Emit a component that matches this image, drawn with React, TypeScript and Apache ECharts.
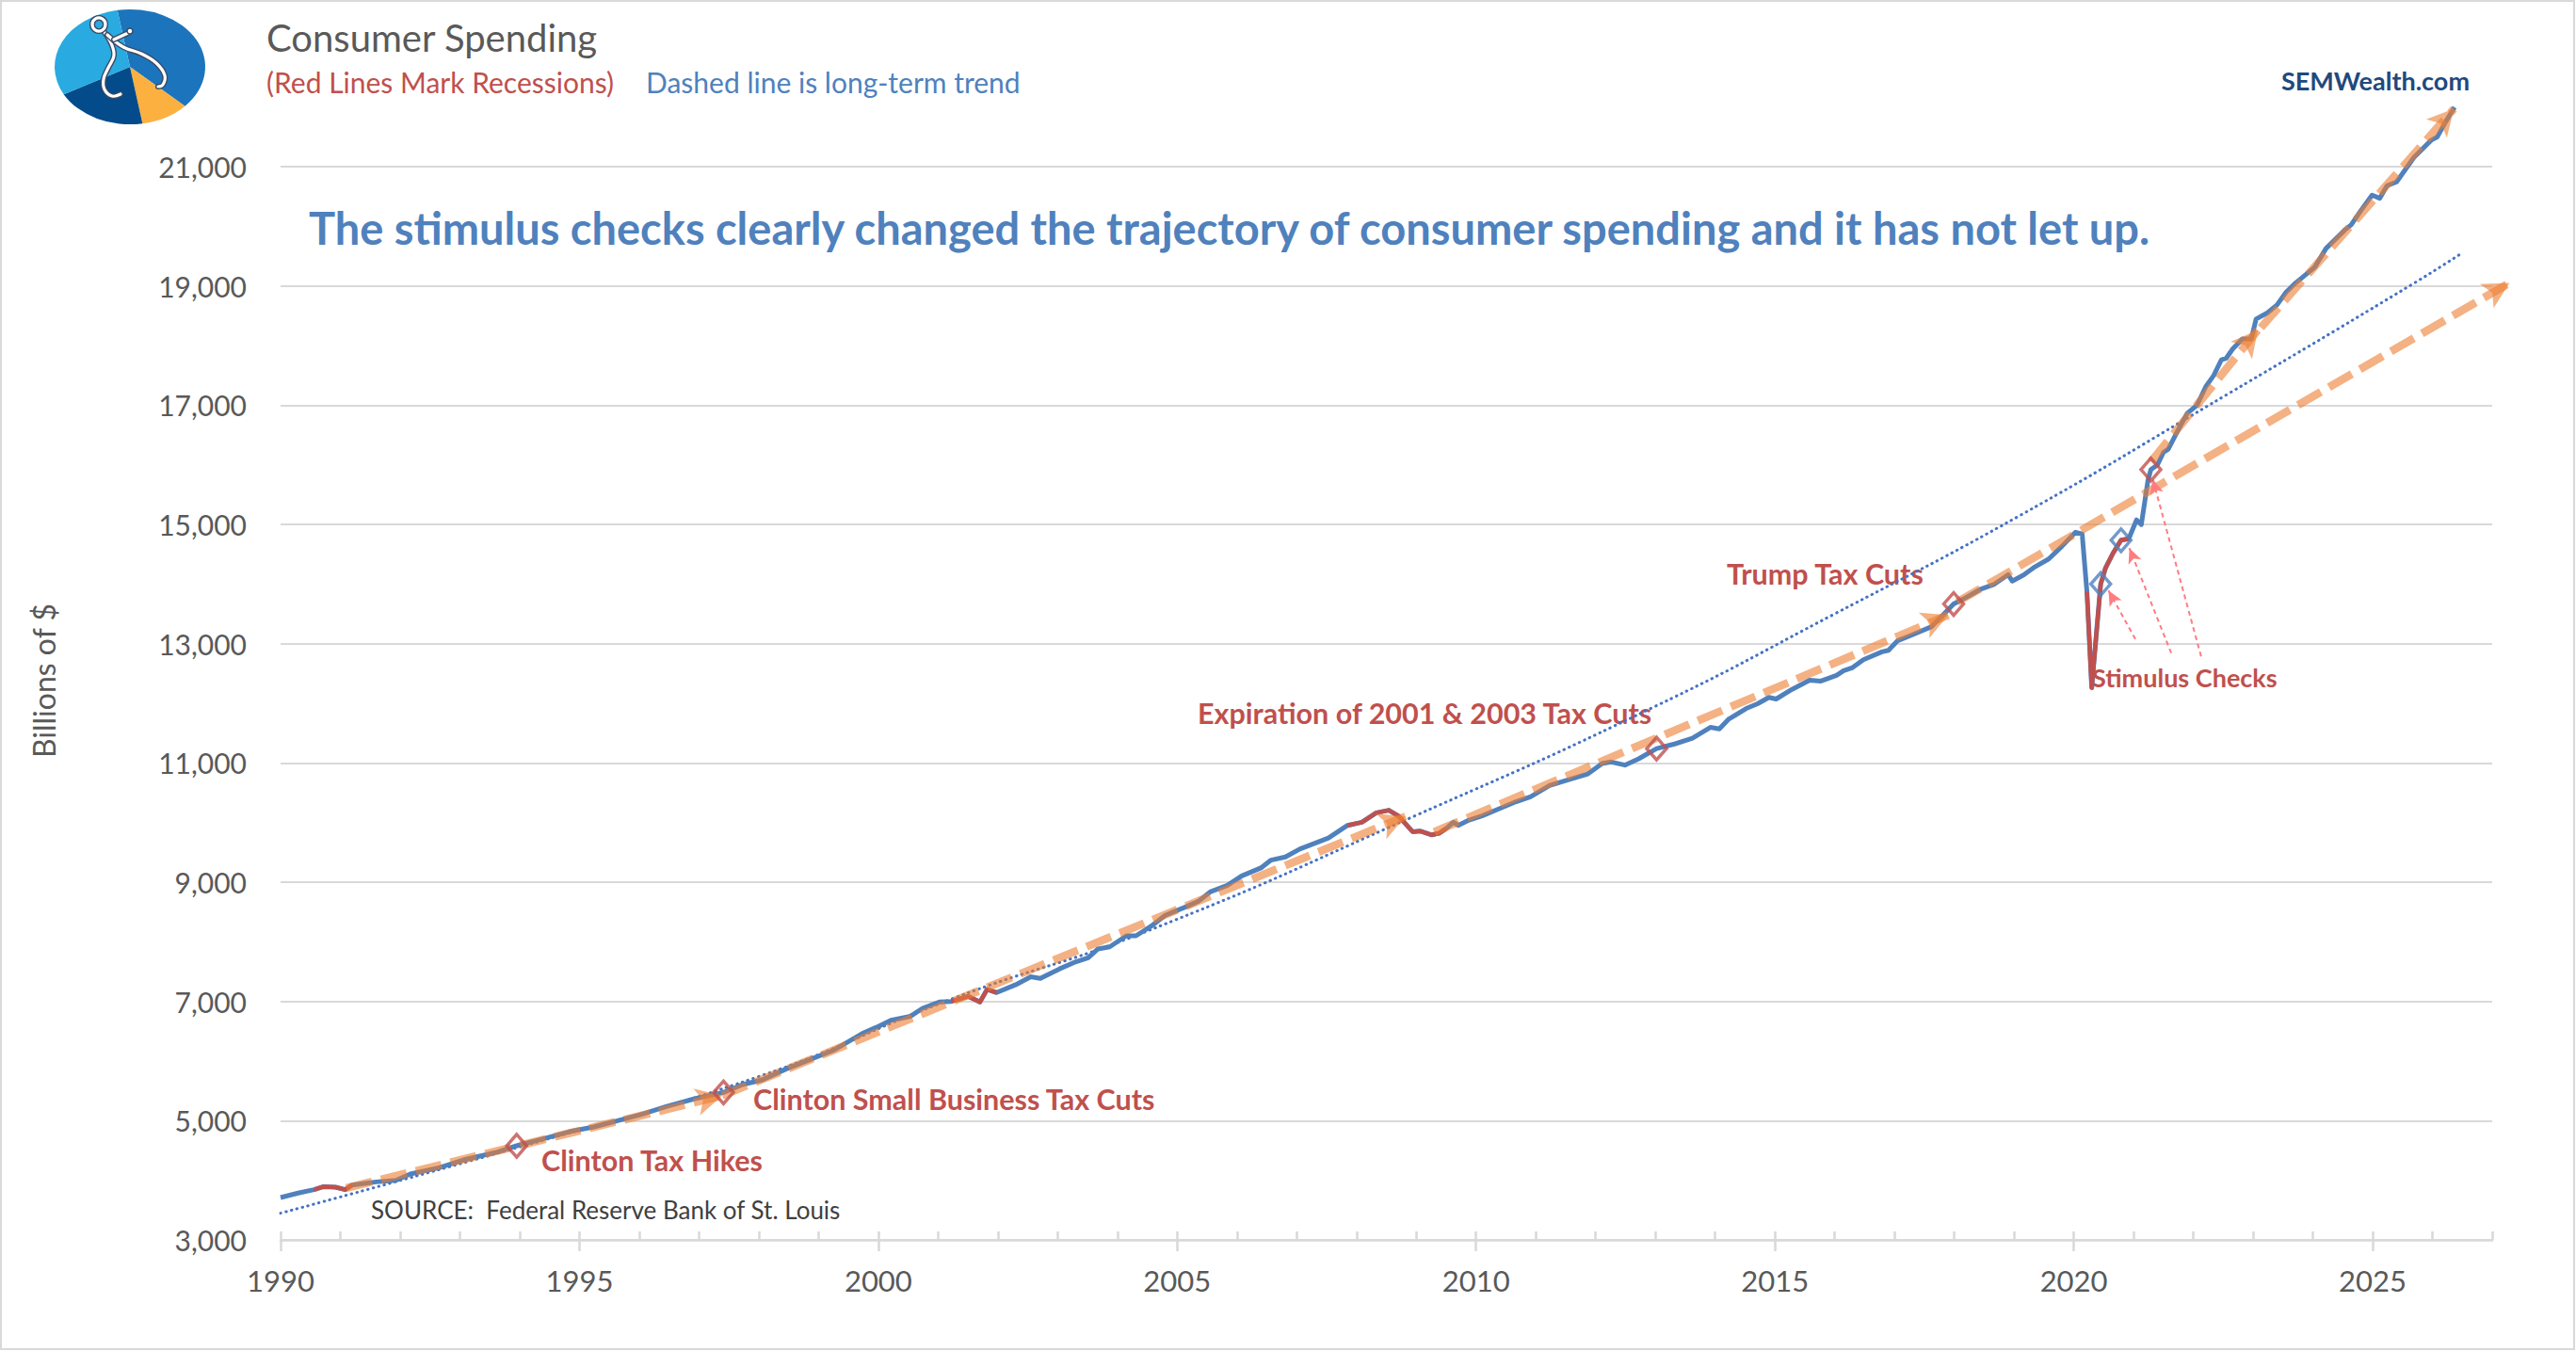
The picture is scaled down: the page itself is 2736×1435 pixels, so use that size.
import React, { useEffect, useRef } from "react";
import * as echarts from "echarts";

// ---------- data ----------
const xLabelYears = [1990, 1995, 2000, 2005, 2010, 2015, 2020, 2025];
const minorTickYears = [
  1990, 1991, 1992, 1993, 1994, 1995, 1996, 1997, 1998, 1999, 2000, 2001, 2002, 2003, 2004, 2005, 2006, 2007, 2008,
  2009, 2010, 2011, 2012, 2013, 2014, 2015, 2016, 2017, 2018, 2019, 2020, 2021, 2022, 2023, 2024, 2025, 2026, 2027,
];

const dates = [
  1990.0, 1990.31, 1990.56, 1990.72, 1990.92, 1991.08, 1991.2, 1991.6, 1991.93, 1992.17, 1992.65, 1993.06, 1993.63,
  1993.95, 1994.35, 1994.83, 1995.24, 1995.64, 1996.04, 1996.45, 1996.93, 1997.41, 1997.73, 1998.06, 1998.46, 1998.86,
  1999.27, 1999.73, 1999.97, 2000.21, 2000.54, 2000.74, 2001.02, 2001.22, 2001.5, 2001.7, 2001.82, 2001.98, 2002.3,
  2002.55, 2002.71, 2003.03, 2003.27, 2003.51, 2003.67, 2003.87, 2004.15, 2004.31, 2004.56, 2004.8, 2005.12, 2005.36,
  2005.56, 2005.84, 2006.08, 2006.4, 2006.57, 2006.81, 2007.05, 2007.53, 2007.85, 2008.09, 2008.33, 2008.54, 2008.7,
  2008.94, 2009.06, 2009.26, 2009.38, 2009.5, 2009.62, 2009.7, 2009.86, 2010.1, 2010.35, 2010.67, 2010.91, 2011.23,
  2011.55, 2011.87, 2012.11, 2012.26, 2012.49, 2012.72, 2013.02, 2013.32, 2013.62, 2013.92, 2014.07, 2014.22, 2014.52,
  2014.71, 2014.9, 2015.02, 2015.28, 2015.58, 2015.77, 2016.03, 2016.15, 2016.3, 2016.48, 2016.79, 2016.9, 2017.05,
  2017.31, 2017.62, 2017.8, 2017.99, 2018.22, 2018.45, 2018.67, 2018.9, 2018.97, 2019.16, 2019.35, 2019.58, 2019.8,
  2020.03, 2020.14, 2020.22, 2020.3, 2020.45, 2020.53, 2020.66, 2020.79, 2020.92, 2021.05, 2021.13, 2021.24, 2021.29,
  2021.4, 2021.5, 2021.58, 2021.77, 2021.9, 2022.06, 2022.21, 2022.34, 2022.47, 2022.55, 2022.66, 2022.82, 2022.97,
  2023.05, 2023.24, 2023.4, 2023.55, 2023.71, 2024.03, 2024.22, 2024.54, 2024.64, 2024.8, 2024.99, 2025.12, 2025.24,
  2025.4, 2025.69, 2025.98, 2026.08, 2026.21, 2026.37,
];
const values = [
  3710, 3789, 3842, 3894, 3884, 3842, 3921, 3973, 4000, 4105, 4210, 4342, 4474, 4579, 4684, 4815, 4895, 5000, 5105,
  5237, 5368, 5474, 5605, 5684, 5868, 6026, 6190, 6460, 6566, 6683, 6751, 6884, 6989, 7000, 7085, 6989, 7201, 7148,
  7280, 7413, 7386, 7545, 7651, 7730, 7878, 7915, 8100, 8100, 8259, 8444, 8576, 8682, 8841, 8947, 9105, 9238, 9370,
  9423, 9555, 9740, 9952, 10005, 10163, 10206, 10111, 9846, 9857, 9793, 9820, 9899, 10005, 9952, 10031, 10111, 10216,
  10349, 10430, 10620, 10720, 10815, 10990, 11016, 10963, 11069, 11240, 11317, 11412, 11596, 11570, 11728, 11913,
  11992, 12098, 12071, 12230, 12388, 12372, 12467, 12546, 12599, 12731, 12863, 12889, 13047, 13153, 13285, 13470, 13665,
  13786, 13918, 13997, 14156, 14050, 14150, 14288, 14420, 14631, 14868, 14840, 13867, 12261, 14000, 14266, 14523, 14735,
  14760, 15076, 14997, 15734, 15920, 15998, 16208, 16260, 16630, 16866, 16997, 17313, 17497, 17760, 17786, 17944, 18112,
  18112, 18444, 18549, 18681, 18891, 19049, 19313, 19628, 19944, 20023, 20260, 20522, 20470, 20680, 20743, 21154, 21444,
  21496, 21733, 21996,
];

const recessions = [
  [1990.56, 1991.2],
  [2001.22, 2001.98],
  [2007.85, 2009.5],
  [2020.22, 2020.92],
];

const trendDates = [1990, 1994, 1998, 2001.25, 2004.5, 2008.95, 2013, 2016, 2019.1, 2022.6, 2025.7, 2026.49];
const trendValues = [3448, 4560, 5740, 7050, 8180, 10100, 11950, 13500, 15150, 17200, 19050, 19549];

const markerDates = [1993.95, 1997.41, 2013.02, 2017.99, 2020.45, 2020.79, 2021.29];
const markerValues = [4579, 5474, 11240, 13665, 14000, 14735, 15920];
const markerColors = ["#c0504d", "#c0504d", "#c0504d", "#c0504d", "#4f81bd", "#4f81bd", "#c0504d"];

const arrowStarts = [
  [1991.1, 3870],
  [1997.39, 5420],
  [2009.3, 9842],
  [2018.05, 13700],
  [2021.29, 16050],
  [2023.13, 18300],
];
const arrowEnds = [
  [1997.39, 5420],
  [2008.82, 10103],
  [2017.9, 13480],
  [2027.29, 19050],
  [2023.08, 18260],
  [2026.36, 21970],
];

const stimStarts = [
  [2021.03, 13077],
  [2021.63, 12841],
  [2022.13, 12787],
];
const stimEnds = [
  [2020.58, 13892],
  [2020.93, 14602],
  [2021.32, 15761],
];

const FONT = "Lato, 'Open Sans', sans-serif";
const BLUE = "#4f81bd";
const RED = "#c0504d";
const GRID = "#d9d9d9";

function deg(a: number) {
  return (a * Math.PI) / 180;
}

type ToPx = ((c: number[]) => number[]) | null;

function buildOption(toPx: ToPx) {
  const mainData = dates.map((d, i) => [d, values[i]]);
  const redSeries = recessions.map((r) => ({
    type: "line",
    data: dates.map((d, i) => [d, values[i]]).filter((p) => p[0] >= r[0] - 1e-6 && p[0] <= r[1] + 1e-6),
    symbol: "none",
    clip: false,
    z: 4,
    lineStyle: { color: RED, width: 4.5, join: "round" },
    silent: true,
  }));

  const pxPair = (s: number[], e: number[]) => {
    const a = toPx!(s);
    const b = toPx!(e);
    return [{ x: a[0], y: a[1] }, { x: b[0], y: b[1] }];
  };

  const txt = (text: string, x: number, y: number, size: number, fill: string, weight = "normal", align = "left") => ({
    type: "text",
    x,
    y,
    silent: true,
    style: {
      text,
      fill,
      fontSize: size,
      fontFamily: FONT,
      fontWeight: weight,
      textAlign: align,
      textVerticalAlign: "middle",
    },
  });

  const caliperStroke = (pts: number[][]) => [
    { type: "polyline", silent: true, shape: { points: pts, smooth: 0.4 }, style: { stroke: "#3b4a63", lineWidth: 6, fill: null, lineCap: "round" } },
    { type: "polyline", silent: true, shape: { points: pts, smooth: 0.4 }, style: { stroke: "#ffffff", lineWidth: 3.2, fill: null, lineCap: "round" } },
  ];

  const legA = [[110, 33], [118, 46], [121, 59], [115, 72], [110, 84], [111, 95], [119, 102], [128, 100]];
  const legB = [[114, 37], [131, 50], [150, 57], [166, 67], [175, 80], [173, 90], [168, 92]];
  const knob = [[121, 42], [136, 35]];

  const graphic: any[] = [
    { type: "rect", shape: { x: 1, y: 1, width: 2733, height: 1432 }, style: { stroke: GRID, lineWidth: 2, fill: null }, silent: true },
    {
      type: "group",
      x: 138,
      y: 71,
      scaleY: 0.7625,
      silent: true,
      children: [
        { type: "sector", shape: { cx: 0, cy: 0, r: 80, startAngle: deg(-99.6), endAngle: deg(43), clockwise: true }, style: { fill: "#1c75bc" } },
        { type: "sector", shape: { cx: 0, cy: 0, r: 80, startAngle: deg(43), endAngle: deg(80.4), clockwise: true }, style: { fill: "#fbb040" } },
        { type: "sector", shape: { cx: 0, cy: 0, r: 80, startAngle: deg(80.4), endAngle: deg(151.5), clockwise: true }, style: { fill: "#034b8a" } },
        { type: "sector", shape: { cx: 0, cy: 0, r: 80, startAngle: deg(151.5), endAngle: deg(260.4), clockwise: true }, style: { fill: "#29aae1" } },
      ],
    },
    ...caliperStroke(legA),
    ...caliperStroke(legB),
    ...caliperStroke(knob),
    { type: "circle", shape: { cx: 105, cy: 26, r: 7 }, style: { stroke: "#3b4a63", lineWidth: 6, fill: null }, silent: true },
    { type: "circle", shape: { cx: 105, cy: 26, r: 7 }, style: { stroke: "#ffffff", lineWidth: 3.2, fill: null }, silent: true },
    { type: "circle", shape: { cx: 138, cy: 33, r: 3 }, style: { stroke: "#3b4a63", lineWidth: 1.5, fill: "#ffffff" }, silent: true },

    txt("Consumer Spending", 283, 40, 40, "#595959"),
    txt("(Red Lines Mark Recessions)", 283, 87, 30, RED),
    txt("Dashed line is long-term trend", 686, 87, 30, BLUE),
    txt("SEMWealth.com", 2623, 85, 27, "#1f497d", "bold", "right"),
    txt(
      "The stimulus checks clearly changed the trajectory of consumer spending and it has not let up.",
      328,
      242,
      47,
      BLUE,
      "bold"
    ),
    txt("Clinton Tax Hikes", 575, 1232, 30.5, RED, "bold"),
    txt("Clinton Small Business Tax Cuts", 800, 1167, 30.5, RED, "bold"),
    txt("Expiration of 2001 & 2003 Tax Cuts", 1272, 757, 30.5, RED, "bold"),
    txt("Trump Tax Cuts", 1834, 609, 30.5, RED, "bold"),
    txt("Stimulus Checks", 2222, 719, 27, RED, "bold"),
    txt("SOURCE:  Federal Reserve Bank of St. Louis", 394, 1285, 26, "#404040"),
    {
      type: "text",
      x: 46,
      y: 723,
      rotation: Math.PI / 2,
      silent: true,
      style: { text: "Billions of $", fill: "#595959", fontSize: 32, fontFamily: FONT, textAlign: "center", textVerticalAlign: "middle" },
    },
  ];

  const series: any[] = [
    {
      type: "line",
      data: trendDates.map((d, i) => [d, trendValues[i]]),
      smooth: true,
      symbol: "none",
      clip: false,
      z: 2,
      silent: true,
      lineStyle: { color: "#4472c4", width: 3, type: [0.5, 5.5], cap: "round" },
    },
    {
      type: "line",
      data: mainData,
      symbol: "none",
      clip: false,
      z: 3,
      silent: true,
      lineStyle: { color: BLUE, width: 5, join: "round" },
    },
    ...redSeries,
    {
      type: "scatter",
      data: markerDates.map((d, i) => ({
        value: [d, markerValues[i]],
        itemStyle: { color: "rgba(255,255,255,0)", borderColor: markerColors[i], borderWidth: 3.5 },
      })),
      symbol: "diamond",
      symbolSize: [21, 24],
      clip: false,
      z: 7,
      silent: true,
    },
  ];

  if (toPx) {
    series.push(
      {
        type: "line",
        data: [],
        clip: false,
        z: 5,
        silent: true,
        markLine: {
          silent: true,
          animation: false,
          symbol: ["none", "arrow"],
          symbolSize: [22, 28],
          label: { show: false },
          emphasis: { disabled: true },
          lineStyle: { color: "rgba(237,125,49,0.6)", width: 8.5, type: [28, 10], cap: "butt" },
          data: arrowStarts.map((s, i) => pxPair(s, arrowEnds[i])),
        },
      },
      {
        type: "line",
        data: [],
        clip: false,
        z: 6,
        silent: true,
        markLine: {
          silent: true,
          animation: false,
          symbol: ["none", "arrow"],
          symbolSize: [11, 16],
          label: { show: false },
          emphasis: { disabled: true },
          lineStyle: { color: "#ff7c80", width: 2, type: [5, 4] },
          data: stimStarts.map((s, i) => pxPair(s, stimEnds[i])),
        },
      }
    );
  }

  return {
    animation: false,
    backgroundColor: "#ffffff",
    textStyle: { fontFamily: FONT },
    grid: { left: 298, right: 89, top: 177, bottom: 118, containLabel: false },
    xAxis: [
      {
        type: "value",
        min: 1990,
        max: 2027,
        interval: 5,
        axisLine: { show: true, lineStyle: { color: GRID, width: 2.5 } },
        axisTick: { show: true, inside: false, length: 12, lineStyle: { color: GRID, width: 2.5 }, customValues: xLabelYears },
        axisLabel: { show: true, fontSize: 31, color: "#595959", fontFamily: FONT, margin: 27, customValues: xLabelYears, formatter: (v: number) => String(v) },
        splitLine: { show: false },
      },
      {
        type: "value",
        min: 1990,
        max: 2027,
        position: "bottom",
        offset: 0,
        axisLine: { show: false },
        axisTick: { show: true, inside: true, length: 9, lineStyle: { color: GRID, width: 2.5 }, customValues: minorTickYears },
        axisLabel: { show: false },
        splitLine: { show: false },
      },
    ],
    yAxis: {
      type: "value",
      min: 3000,
      max: 21000,
      interval: 2000,
      axisLine: { show: false },
      axisTick: { show: false },
      axisLabel: { fontSize: 30, color: "#595959", fontFamily: FONT, margin: 36, formatter: (v: number) => v.toLocaleString("en-US") },
      splitLine: { show: true, lineStyle: { color: GRID, width: 2 } },
    },
    series,
    graphic,
  };
}

export default function App() {
  const ref = useRef<HTMLDivElement>(null);
  useEffect(() => {
    if (!ref.current) return;
    const chart = echarts.init(ref.current, null, { renderer: "svg" });
    chart.setOption(buildOption(null) as any);
    const toPx = (c: number[]) => chart.convertToPixel({ xAxisIndex: 0, yAxisIndex: 0 } as any, c) as number[];
    chart.setOption(buildOption(toPx) as any, true);
    return () => {
      chart.dispose();
    };
  }, []);
  return <div ref={ref} style={{ position: "fixed", left: 0, top: 0, width: "100vw", height: "100vh", background: "#fff" }} />;
}
